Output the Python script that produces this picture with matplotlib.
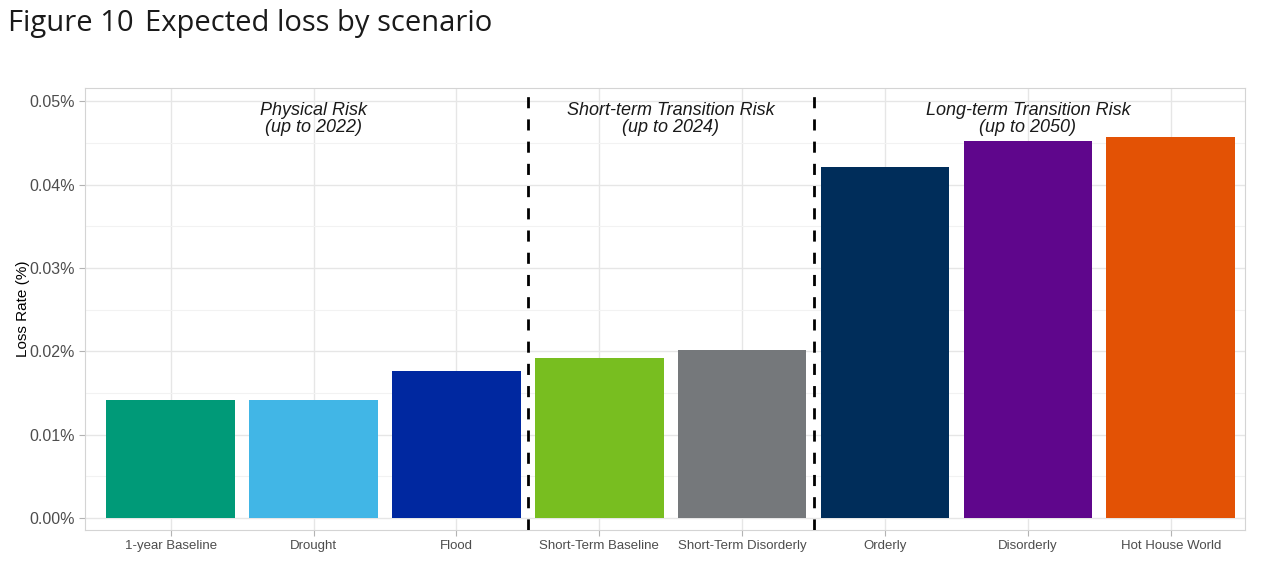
import matplotlib

matplotlib.use("Agg")

import matplotlib.pyplot as plt
from matplotlib.ticker import FuncFormatter, MultipleLocator

scenarios = [
    "1-year Baseline",
    "Drought",
    "Flood",
    "Short-Term Baseline",
    "Short-Term Disorderly",
    "Orderly",
    "Disorderly",
    "Hot House World",
]
loss_rate = [0.0141, 0.0141, 0.0176, 0.0192, 0.0201, 0.0421, 0.0452, 0.0457]
colours = ["#009a78", "#41b6e6", "#0028a0", "#78be20", "#75787b", "#002d5a", "#5f068c", "#e35205"]

groups = ["Physical Risk\n(up to 2022)", "Short-term Transition Risk\n(up to 2024)", "Long-term Transition Risk\n(up to 2050)"]
group_centres = [1, 3.5, 6]
dividers = [2.5, 4.5]

fig = plt.figure(figsize=(12.8, 5.76), dpi=100)
ax = fig.add_axes([0.0664, 0.0799, 0.9063, 0.7673])

x = range(len(scenarios))
ax.bar(x, loss_rate, width=0.9, color=colours, zorder=2)

# dashed separators between the three scenario groups
for d in dividers:
    ax.axvline(d, color="black", ls=(0, (4, 4)), lw=2, zorder=3)

for cx, label in zip(group_centres, groups):
    ax.text(cx, 0.0499, label, ha="center", va="top", style="italic", fontsize=13,
            family="Liberation Sans", color="#1a1a1a", linespacing=1.0, zorder=4)

ax.set_xlim(-0.6, 7.52)
ax.set_ylim(-0.00144, 0.0516)
ax.set_xticks(list(x))
ax.set_xticklabels(scenarios, fontsize=9.5, family="Liberation Sans", color="#4d4d4d")
ax.yaxis.set_major_locator(MultipleLocator(0.01))
ax.yaxis.set_minor_locator(MultipleLocator(0.005))
ax.yaxis.set_major_formatter(FuncFormatter(lambda v, p: f"{v:.2f}%"))
for lab in ax.get_yticklabels():
    lab.set_family("Liberation Sans")
ax.tick_params(axis="y", labelsize=11.5, labelcolor="#4d4d4d", color="#b3b3b3", length=4)
ax.tick_params(axis="x", color="#b3b3b3", length=4)
ax.tick_params(axis="y", which="minor", length=0)
ax.grid(True, which="major", color="#e6e6e6", lw=1, zorder=0)
ax.grid(True, which="minor", axis="y", color="#f2f2f2", lw=0.8, zorder=0)
for s in ax.spines.values():
    s.set_color("#d4d4d4")
ax.set_ylabel("Loss Rate (%)", fontsize=11, family="Liberation Sans", labelpad=-1)

fig.text(0.006, 0.96, "Figure 10", fontsize=21, family="Open Sans", va="center", color="#1a1a1a")
fig.text(0.113, 0.96, "Expected loss by scenario", fontsize=21, family="Open Sans", va="center", color="#1a1a1a")

fig.savefig("out.png", dpi=100, facecolor="white")
plt.close()
